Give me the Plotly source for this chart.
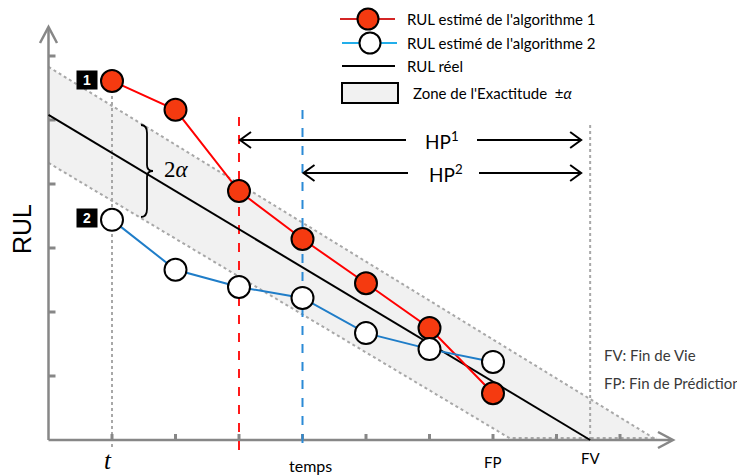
import plotly.graph_objects as go

# ---- data -------------------------------------------------------------
temps = [1, 2, 3, 4, 5, 6, 7]
rul_algo1 = [5.61, 5.16, 3.89, 3.14, 2.45, 1.75, 0.73]
rul_algo2 = [3.44, 2.66, 2.39, 2.22, 1.67, 1.42, 1.22]

# true RUL line and the accuracy band (each boundary: value at t=0, zero crossing)
rul_reel_x = [0, 8.53]
rul_reel_y = [5.08, 0]
zone_haute_x = [0, 9.58]
zone_haute_y = [5.83, 0]
zone_basse_x = [0, 7.31]
zone_basse_y = [4.33, 0]

t_debut = 1          # first prediction instant t
hp1_debut = 3        # algorithm 1 enters the accuracy zone
hp2_debut = 4        # algorithm 2 enters the accuracy zone
fp = 7               # end of prediction
fv = 8.53            # end of life
x_ticks = [1, 2, 3, 4, 5, 6, 7, 8, 9]
y_ticks = [1, 2, 3, 4, 5, 6]

# ---- page geometry helpers (pixel -> data) ---------------------------
W, H = 737, 475
X0_PX, SX = 48.5, 63.5
Y0_PX, SY = 440.0, 64.0


def X(px):
    return (px - X0_PX) / SX


def Y(py):
    return (Y0_PX - py) / SY


def dx(p):
    return p / SX


def dy(p):
    return p / SY


RED_FILL = "#f53a10"
RED_LINE = "#ff0000"
BLUE_LINE = "#1f7dc8"
AXIS_GREY = "#878787"
DOT_GREY = "#a8a8a8"
TXT_FONT = "Lato"

fig = go.Figure()
shapes = []

# accuracy band
shapes.append(dict(
    type="path", layer="below",
    path=(f"M {zone_haute_x[0]},{zone_haute_y[0]} L {zone_haute_x[1]},{zone_haute_y[1]} "
          f"L {zone_basse_x[1]},{zone_basse_y[1]} L {zone_basse_x[0]},{zone_basse_y[0]} Z"),
    fillcolor="#f1f1f1", line=dict(width=0)))
for bx, by in ((zone_haute_x, zone_haute_y), (zone_basse_x, zone_basse_y)):
    shapes.append(dict(type="line", layer="below", x0=bx[0], y0=by[0], x1=bx[1], y1=by[1],
                       line=dict(color=DOT_GREY, width=2, dash="dot")))
shapes.append(dict(type="line", layer="below", x0=zone_basse_x[1], y0=dy(2),
                   x1=zone_haute_x[1], y1=dy(2),
                   line=dict(color=DOT_GREY, width=2, dash="dot")))

# dotted guides at t and FV
shapes.append(dict(type="line", layer="below", x0=t_debut, x1=t_debut, y0=-dy(7), y1=Y(92),
                   line=dict(color=DOT_GREY, width=2, dash="dot")))
shapes.append(dict(type="line", layer="below", x0=fv, x1=fv, y0=0, y1=Y(125),
                   line=dict(color=DOT_GREY, width=2, dash="dot")))

# axes
shapes.append(dict(type="line", layer="below", x0=0, y0=0, x1=0, y1=Y(28),
                   line=dict(color=AXIS_GREY, width=2.5)))
shapes.append(dict(type="line", layer="below", x0=0, y0=0, x1=X(672), y1=0,
                   line=dict(color=AXIS_GREY, width=2.5)))
shapes.append(dict(type="path", layer="below",
                   path=f"M {-dx(8.5)},{Y(43)} L 0,{Y(27)} L {dx(8.5)},{Y(43)}",
                   line=dict(color=AXIS_GREY, width=2.5)))
shapes.append(dict(type="path", layer="below",
                   path=f"M {X(658)},{dy(8)} L {X(673)},0 L {X(658)},{-dy(8)}",
                   line=dict(color=AXIS_GREY, width=2.5)))
for v in y_ticks:
    shapes.append(dict(type="line", layer="below", x0=0, x1=dx(7), y0=v, y1=v,
                       line=dict(color=AXIS_GREY, width=3)))
for v in x_ticks:
    shapes.append(dict(type="line", layer="below", x0=v, x1=v, y0=0, y1=dy(6),
                       line=dict(color=AXIS_GREY, width=3)))

# start of the prediction horizons
shapes.append(dict(type="line", layer="below", x0=hp1_debut, x1=hp1_debut, y0=-dy(10), y1=Y(115),
                   line=dict(color="#ff1a1a", width=2, dash="dash")))
shapes.append(dict(type="line", layer="below", x0=hp2_debut, x1=hp2_debut, y0=-dy(3), y1=Y(110),
                   line=dict(color="#2b8ad6", width=2, dash="dash")))


# prediction horizon arrows
def hp_arrow(x_start, x_end, py, gap_l, gap_r):
    yv = Y(py)
    out = [
        dict(type="line", x0=x_start + dx(1), x1=X(gap_l), y0=yv, y1=yv, line=dict(color="black", width=2)),
        dict(type="line", x0=X(gap_r), x1=x_end - dx(9), y0=yv, y1=yv, line=dict(color="black", width=2)),
        dict(type="path", path=f"M {x_start + dx(12)},{yv + dy(8)} L {x_start + dx(1)},{yv} "
                               f"L {x_start + dx(12)},{yv - dy(8)}", line=dict(color="black", width=2)),
        dict(type="path", path=f"M {x_end - dx(20)},{yv + dy(8)} L {x_end - dx(9)},{yv} "
                               f"L {x_end - dx(20)},{yv - dy(8)}", line=dict(color="black", width=2)),
    ]
    return out


shapes += hp_arrow(hp1_debut, fv, 140, 406, 477)
shapes += hp_arrow(hp2_debut, fv, 173, 408, 479)

# brace showing the band width 2 alpha
bx_l, bx_m, bx_r = X(141), X(147), X(153)
by_t, by_m, by_b = Y(125), Y(171), Y(217)
shapes.append(dict(
    type="path",
    path=(f"M {bx_l},{by_t} Q {bx_m},{by_t} {bx_m},{by_t - dy(8)} "
          f"L {bx_m},{by_m + dy(6)} Q {bx_m},{by_m} {bx_r},{by_m} "
          f"Q {bx_m},{by_m} {bx_m},{by_m - dy(6)} "
          f"L {bx_m},{by_b + dy(8)} Q {bx_m},{by_b} {bx_l},{by_b}"),
    line=dict(color="black", width=1.8)))

# legend glyphs
shapes.append(dict(type="rect", x0=X(342), x1=X(398), y0=Y(83), y1=Y(103),
                   fillcolor="#f1f1f1", line=dict(color="black", width=2)))

# ---- traces -----------------------------------------------------------
fig.add_trace(go.Scatter(x=rul_reel_x, y=rul_reel_y, mode="lines",
                         line=dict(color="black", width=2), hoverinfo="skip"))
fig.add_trace(go.Scatter(x=temps, y=rul_algo1, mode="lines+markers",
                         line=dict(color=RED_LINE, width=2),
                         marker=dict(size=22, color=RED_FILL, line=dict(color="black", width=2)),
                         name="RUL estimé de l'algorithme 1"))
fig.add_trace(go.Scatter(x=temps, y=rul_algo2, mode="lines+markers",
                         line=dict(color=BLUE_LINE, width=2),
                         marker=dict(size=22, color="white", line=dict(color="black", width=2)),
                         name="RUL estimé de l'algorithme 2"))

# legend samples
fig.add_trace(go.Scatter(x=[X(340), X(395)], y=[Y(19), Y(19)], mode="lines",
                         line=dict(color="#d42525", width=2), hoverinfo="skip"))
fig.add_trace(go.Scatter(x=[X(368)], y=[Y(19)], mode="markers",
                         marker=dict(size=21, color=RED_FILL, line=dict(color="black", width=2)),
                         hoverinfo="skip"))
fig.add_trace(go.Scatter(x=[X(342), X(397)], y=[Y(43), Y(43)], mode="lines",
                         line=dict(color="#22aeea", width=2), hoverinfo="skip"))
fig.add_trace(go.Scatter(x=[X(370)], y=[Y(43)], mode="markers",
                         marker=dict(size=21, color="white", line=dict(color="black", width=2)),
                         hoverinfo="skip"))
fig.add_trace(go.Scatter(x=[X(342), X(395)], y=[Y(66), Y(66)], mode="lines",
                         line=dict(color="black", width=2), hoverinfo="skip"))

# ---- text -------------------------------------------------------------
ann = []


def txt(x, y, text, size=15, family=TXT_FONT, color="black", xanchor="center", **kw):
    ann.append(dict(x=x, y=y, xref="x", yref="y", text=text, showarrow=False,
                    xanchor=xanchor, yanchor="middle",
                    font=dict(family=family, size=size, color=color), **kw))


txt(X(405), Y(19), "RUL estimé de l'algorithme 1", xanchor="left")
txt(X(405), Y(43), "RUL estimé de l'algorithme 2", xanchor="left")
txt(X(405), Y(66), "RUL réel", xanchor="left")
txt(X(411), Y(93), "Zone de l'Exactitude  ±<i>α</i>", xanchor="left")

txt(X(442), Y(140), "HP<sup>1</sup>", size=19)
txt(X(446), Y(173), "HP<sup>2</sup>", size=19)
txt(X(176), Y(169), "2<i>α</i>", size=23, family="Liberation Serif")

txt(X(22), Y(229), "RUL", size=25, family="Liberation Sans", textangle=-90)
txt(t_debut - dx(4), Y(460), "<i>t</i>", size=25, family="Liberation Serif")
txt(X(310), Y(465), "temps", size=16)
txt(fp, Y(462), "FP", size=15)
txt(fv, Y(458), "FV", size=15)

txt(X(602), Y(355), "FV: Fin de Vie", size=15, color="#3a3a3a", xanchor="left")
txt(X(602), Y(383), "FP: Fin de Prédiction", size=15, color="#3a3a3a", xanchor="left")

for num, py in (("1", 80), ("2", 218)):
    ann.append(dict(x=X(87), y=Y(py), xref="x", yref="y", text=f"<b>{num}</b>",
                    showarrow=False, bgcolor="black", width=18, height=16, borderpad=1,
                    font=dict(family="Liberation Sans", size=14, color="white")))

fig.update_layout(
    width=W, height=H, autosize=False,
    margin=dict(l=0, r=0, t=0, b=0),
    paper_bgcolor="white", plot_bgcolor="white",
    showlegend=False,
    xaxis=dict(range=[X(0), X(W)], visible=False, fixedrange=True),
    yaxis=dict(range=[Y(H), Y(0)], visible=False, fixedrange=True),
    shapes=shapes,
    annotations=ann,
)

fig.write_html("out.html")
